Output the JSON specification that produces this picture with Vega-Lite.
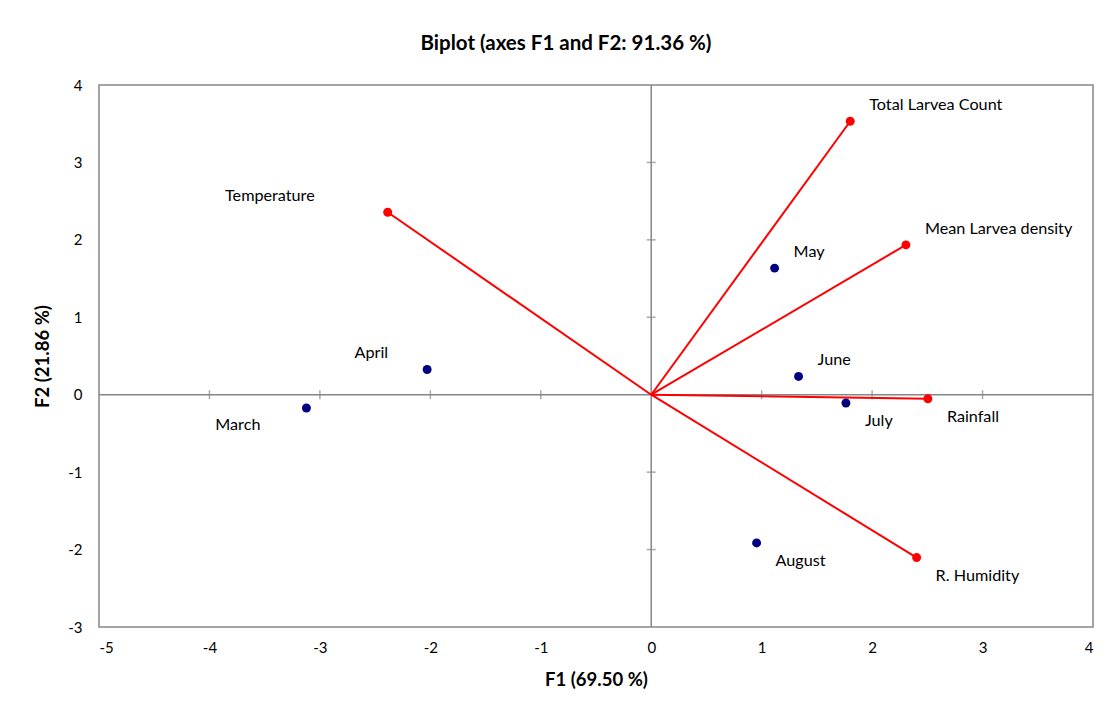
{
  "$schema": "https://vega.github.io/schema/vega-lite/v6.json",
  "width": 994,
  "height": 542,
  "autosize": {"type": "none"},
  "padding": {"left": 99, "top": 85, "right": 27, "bottom": 92},
  "background": "white",
  "title": {"text": "Biplot (axes F1 and F2: 91.36 %)", "font": "Lato", "fontSize": 20.5, "fontWeight": "bold", "color": "black", "anchor": "middle", "frame": "group", "dx": -30, "offset": 24},
  "datasets": {
    "points": [
      {"name": "Temperature", "kind": "variable", "x": -2.386, "y": 2.357},
      {"name": "Total Larvea Count", "kind": "variable", "x": 1.802, "y": 3.532},
      {"name": "Mean Larvea density", "kind": "variable", "x": 2.306, "y": 1.935},
      {"name": "Rainfall", "kind": "variable", "x": 2.505, "y": -0.052},
      {"name": "R. Humidity", "kind": "variable", "x": 2.403, "y": -2.103},
      {"name": "March", "kind": "observation", "x": -3.122, "y": -0.172},
      {"name": "April", "kind": "observation", "x": -2.029, "y": 0.326},
      {"name": "May", "kind": "observation", "x": 1.117, "y": 1.635},
      {"name": "June", "kind": "observation", "x": 1.334, "y": 0.236},
      {"name": "July", "kind": "observation", "x": 1.763, "y": -0.107},
      {"name": "August", "kind": "observation", "x": 0.954, "y": -1.914}
    ],
    "origin": [{"x": 0, "y": 0}],
    "xticks": [{"x": -4, "y": 0}, {"x": -3, "y": 0}, {"x": -2, "y": 0}, {"x": -1, "y": 0}, {"x": 1, "y": 0}, {"x": 2, "y": 0}, {"x": 3, "y": 0}],
    "yticks": [{"x": 0, "y": -2}, {"x": 0, "y": -1}, {"x": 0, "y": 1}, {"x": 0, "y": 2}, {"x": 0, "y": 3}]
  },
  "config": {
    "view": {"stroke": "#868686", "strokeWidth": 1.5},
    "axis": {
      "grid": false, "ticks": false, "domain": false, "labelExpr": "'' + datum.value",
      "labelFont": "Lato", "labelFontSize": 15, "labelColor": "black",
      "titleFont": "Lato", "titleFontSize": 18.5, "titleFontWeight": "bold", "titleColor": "black"
    },
    "axisX": {"labelPadding": 13, "titlePadding": 15},
    "axisY": {"labelPadding": 17, "titlePadding": 15},
    "text": {"font": "Lato", "fontSize": 16.2, "color": "black"}
  },
  "layer": [
    {
      "data": {"name": "origin"},
      "mark": {"type": "rule", "color": "#868686", "strokeWidth": 1.5},
      "encoding": {
        "x": {"field": "x", "type": "quantitative", "scale": {"domain": [-5, 4], "nice": false, "zero": false}, "axis": {"title": "F1 (69.50 %)", "values": [-5, -4, -3, -2, -1, 0, 1, 2, 3, 4]}}
      }
    },
    {
      "data": {"name": "origin"},
      "mark": {"type": "rule", "color": "#868686", "strokeWidth": 1.5},
      "encoding": {
        "y": {"field": "y", "type": "quantitative", "scale": {"domain": [-3, 4], "nice": false, "zero": false}, "axis": {"title": "F2 (21.86 %)", "values": [-3, -2, -1, 0, 1, 2, 3, 4]}}
      }
    },
    {
      "data": {"name": "xticks"},
      "mark": {"type": "tick", "orient": "vertical", "size": 9, "thickness": 1.5, "color": "#868686"},
      "encoding": {
        "x": {"field": "x", "type": "quantitative"},
        "y": {"field": "y", "type": "quantitative"}
      }
    },
    {
      "data": {"name": "yticks"},
      "mark": {"type": "tick", "orient": "horizontal", "size": 9, "thickness": 1.5, "color": "#868686"},
      "encoding": {
        "y": {"field": "y", "type": "quantitative"},
        "x": {"field": "x", "type": "quantitative"}
      }
    },
    {
      "data": {"name": "points"},
      "transform": [{"filter": "datum.kind === 'variable'"}],
      "mark": {"type": "rule", "color": "#FF0000", "strokeWidth": 2},
      "encoding": {
        "x": {"field": "x", "type": "quantitative"},
        "y": {"field": "y", "type": "quantitative"},
        "x2": {"datum": 0},
        "y2": {"datum": 0}
      }
    },
    {
      "data": {"name": "points"},
      "mark": {"type": "circle", "size": 80, "opacity": 1},
      "encoding": {
        "x": {"field": "x", "type": "quantitative"},
        "y": {"field": "y", "type": "quantitative"},
        "color": {"field": "kind", "type": "nominal", "scale": {"domain": ["variable", "observation"], "range": ["#FF0000", "#000080"]}, "legend": null}
      }
    },
    {
      "data": {"name": "points"},
      "transform": [{"filter": {"field": "name", "oneOf": ["Total Larvea Count", "Mean Larvea density", "May", "June"]}}],
      "mark": {"type": "text", "align": "left", "baseline": "middle", "dx": 19, "dy": -16},
      "encoding": {
        "x": {"field": "x", "type": "quantitative"},
        "y": {"field": "y", "type": "quantitative"},
        "text": {"field": "name"}
      }
    },
    {
      "data": {"name": "points"},
      "transform": [{"filter": {"field": "name", "oneOf": ["Rainfall", "R. Humidity", "July", "August"]}}],
      "mark": {"type": "text", "align": "left", "baseline": "middle", "dx": 19, "dy": 18},
      "encoding": {
        "x": {"field": "x", "type": "quantitative"},
        "y": {"field": "y", "type": "quantitative"},
        "text": {"field": "name"}
      }
    },
    {
      "data": {"name": "points"},
      "transform": [{"filter": "datum.name === 'Temperature'"}],
      "mark": {"type": "text", "align": "right", "baseline": "middle", "dx": -73, "dy": -16},
      "encoding": {
        "x": {"field": "x", "type": "quantitative"},
        "y": {"field": "y", "type": "quantitative"},
        "text": {"field": "name"}
      }
    },
    {
      "data": {"name": "points"},
      "transform": [{"filter": "datum.name === 'April'"}],
      "mark": {"type": "text", "align": "right", "baseline": "middle", "dx": -39, "dy": -16},
      "encoding": {
        "x": {"field": "x", "type": "quantitative"},
        "y": {"field": "y", "type": "quantitative"},
        "text": {"field": "name"}
      }
    },
    {
      "data": {"name": "points"},
      "transform": [{"filter": "datum.name === 'March'"}],
      "mark": {"type": "text", "align": "right", "baseline": "middle", "dx": -46, "dy": 17},
      "encoding": {
        "x": {"field": "x", "type": "quantitative"},
        "y": {"field": "y", "type": "quantitative"},
        "text": {"field": "name"}
      }
    }
  ]
}
